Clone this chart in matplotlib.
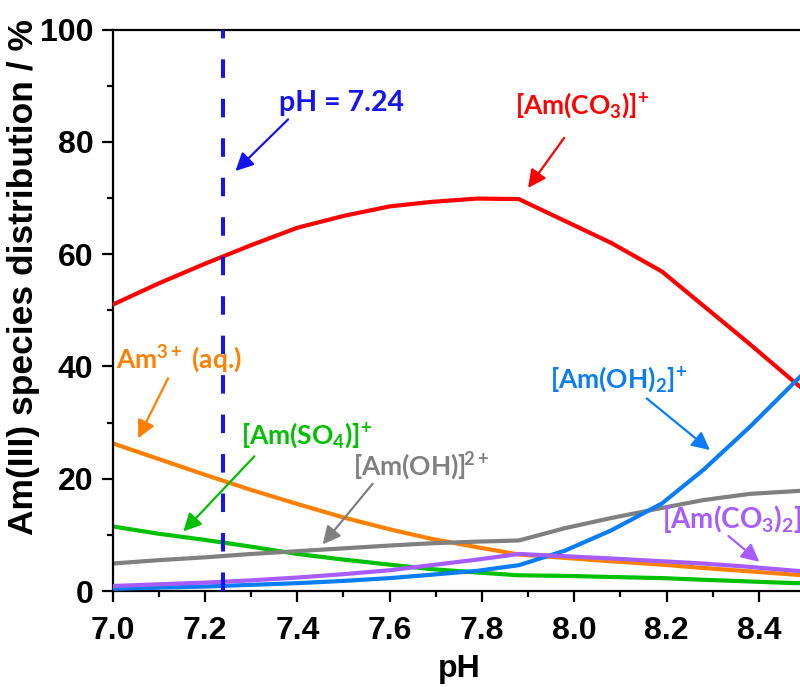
import matplotlib
matplotlib.use("Agg")
import matplotlib.pyplot as plt
from matplotlib.font_manager import FontProperties

plt.rcParams.update({
    "mathtext.fontset": "custom",
    "mathtext.rm": "Lato:bold",
    "mathtext.it": "Lato:bold",
    "mathtext.bf": "Lato:bold",
    "mathtext.default": "rm",
})

# pH grid of the speciation calculation
ph = [7.00, 7.10, 7.20, 7.30, 7.40, 7.50, 7.60, 7.69, 7.79, 7.88,
      7.98, 8.08, 8.19, 8.28, 8.38, 8.48, 8.50]

# Am(III) species distribution (%)
am_co3 = [51.0, 54.8, 58.3, 61.6, 64.7, 66.8, 68.5, 69.3, 69.9, 69.8,
          65.9, 62.0, 56.9, 50.8, 44.0, 37.0, 35.7]
am_aq = [26.3, 23.5, 20.7, 18.0, 15.5, 13.1, 11.0, 9.3, 7.8, 6.5,
         5.9, 5.3, 4.7, 4.1, 3.5, 2.9, 2.8]
am_so4 = [11.5, 10.2, 9.1, 7.9, 6.6, 5.6, 4.7, 3.9, 3.3, 2.8,
          2.7, 2.5, 2.3, 2.0, 1.7, 1.4, 1.4]
am_oh = [4.9, 5.5, 6.0, 6.6, 7.1, 7.6, 8.1, 8.5, 8.8, 9.0,
         11.2, 13.0, 14.8, 16.2, 17.3, 17.8, 17.9]
am_oh2 = [0.4, 0.6, 0.8, 1.1, 1.4, 1.8, 2.3, 2.9, 3.6, 4.6,
          7.2, 10.8, 15.6, 21.6, 29.2, 37.4, 39.0]
am_co3_2 = [0.9, 1.2, 1.5, 1.9, 2.4, 3.0, 3.7, 4.6, 5.6, 6.6,
            6.2, 5.8, 5.3, 4.9, 4.3, 3.6, 3.5]

ph_marker = 7.24

x_ticks = [7.0, 7.2, 7.4, 7.6, 7.8, 8.0, 8.2, 8.4]
y_ticks = [0, 20, 40, 60, 80, 100]

C_RED = "#FF0000"
C_ORANGE = "#FF8000"
C_GREEN = "#00C000"
C_GRAY = "#808080"
C_BLUE = "#0A7DF5"
C_PURPLE = "#A65CFF"
C_MARK = "#1414F0"

fig = plt.figure(figsize=(8.0, 6.87), dpi=100)
ax = fig.add_axes([0.1409, 0.1397, 0.8654, 0.8173])

lw = 3.0
ax.plot(ph, am_co3, color=C_RED, lw=lw, zorder=3)
ax.plot(ph, am_aq, color=C_ORANGE, lw=lw, zorder=2)
ax.plot(ph, am_so4, color=C_GREEN, lw=lw, zorder=2)
ax.plot(ph, am_oh, color=C_GRAY, lw=lw, zorder=2)
ax.plot(ph, am_oh2, color=C_BLUE, lw=lw, zorder=3)
ax.plot(ph, am_co3_2, color=C_PURPLE, lw=lw, zorder=3)

ax.axvline(ph_marker, color=C_MARK, lw=2.9, linestyle=(0, (4.6, 5.2)),
           dash_capstyle="butt", zorder=4)

ax.set_xlim(7.0, 8.5)
ax.set_ylim(0, 100)
ax.set_xticks(x_ticks)
ax.set_xticklabels([f"{v:.1f}" for v in x_ticks])
ax.set_yticks(y_ticks)
ax.set_xticks([v + 0.1 for v in x_ticks], minor=True)
ax.set_yticks([10, 30, 50, 70, 90], minor=True)

tick_fp = FontProperties(family="Liberation Sans", weight="bold", size=23)
for lab in ax.get_xticklabels() + ax.get_yticklabels():
    lab.set_fontproperties(tick_fp)

ax.tick_params(which="major", direction="out", length=8, width=1.6)
ax.tick_params(axis="y", which="major", pad=6)
ax.tick_params(axis="x", which="major", pad=10)
ax.tick_params(which="minor", direction="out", length=4.5, width=1.6)
for side in ("left", "bottom", "top"):
    ax.spines[side].set_linewidth(1.6)
ax.spines["right"].set_visible(False)

ax.set_xlabel("pH", family="Liberation Sans", weight="bold", size=23,
              labelpad=6)
ax.set_ylabel("Am(III) species distribution / %", family="Liberation Sans",
              weight="bold", size=25.5)
ax.yaxis.set_label_coords(-0.105, 0.56)


def arrow(tail, head, color):
    ax.annotate("", xy=head, xytext=tail,
                arrowprops=dict(arrowstyle="-|>", color=color, lw=1.6,
                                mutation_scale=27, shrinkA=0, shrinkB=0),
                zorder=5)


def tag(x, y, text, color, size):
    ax.text(x, y, text, color=color, fontsize=size, family="Lato",
            weight="bold", ha="left", va="baseline", clip_on=False,
            zorder=5)


arrow((7.380, 84.0), (7.266, 74.8), C_MARK)
tag(7.360, 85.5, "pH = 7.24", C_MARK, 20.5)

arrow((7.978, 80.7), (7.900, 71.8), C_RED)
tag(7.872, 85.0, r"$[Am(CO_3)]^{\!+}$", C_RED, 19)

arrow((7.120, 37.9), (7.055, 27.2), C_ORANGE)
tag(7.008, 39.8, r"$Am^{3+}$ (aq.)", C_ORANGE, 19)

arrow((7.307, 24.0), (7.153, 10.6), C_GREEN)
tag(7.278, 26.3, r"$[Am(SO_4)]^{\!+}$", C_GREEN, 19)

arrow((7.563, 19.1), (7.455, 8.3), C_GRAY)
tag(7.520, 20.6, r"$[Am(OH)]^{\!2+}$", C_GRAY, 19)

arrow((8.157, 34.3), (8.294, 25.1), C_BLUE)
tag(7.947, 36.2, r"$[Am(OH)_2]^{\!+}$", C_BLUE, 19)

arrow((8.334, 9.8), (8.401, 5.2), C_PURPLE)
tag(8.190, 11.2, r"$[Am(CO_3)_2]^{\!-}$", C_PURPLE, 20)

fig.savefig("out.png", dpi=100)
